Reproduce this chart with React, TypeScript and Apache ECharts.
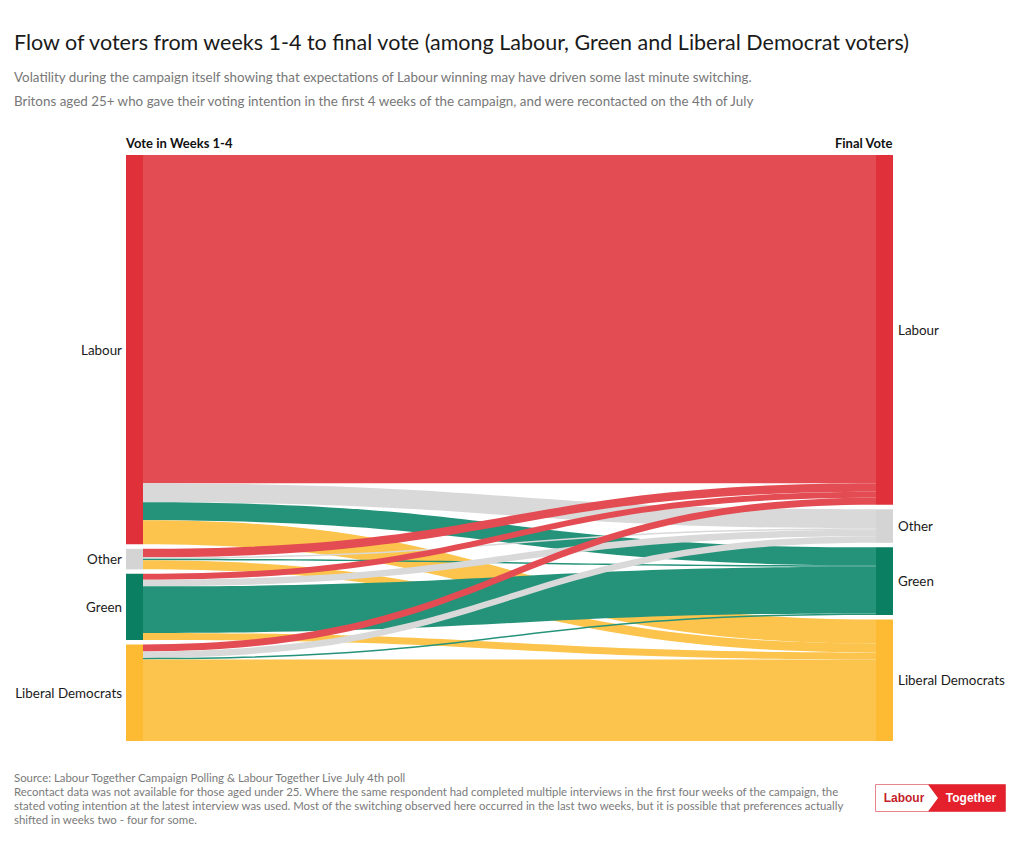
import React, { useEffect, useRef } from "react";
import * as echarts from "echarts";

const parties = ["Labour", "Other", "Green", "Liberal Democrats"];
// flows from each weeks 1-4 party to final vote [Labour, Other, Green, Liberal Democrats]
const fromLabour = [328, 19, 18, 24];
const fromOther = [8.5, 1.5, 1.5, 9];
const fromGreen = [6, 6.5, 46.5, 7];
const fromLibDem = [7, 6.5, 1.5, 81.5];
const flows = [fromLabour, fromOther, fromGreen, fromLibDem];

const nodeColors = ["#e0303a", "#d4d4d4", "#0a7f62", "#fcbb33"];
const linkColors = ["#e34c53", "#d9d9d9", "#24937a", "#fcc44c"];

const titleText =
  "Flow of voters from weeks 1-4 to final vote (among Labour, Green and Liberal Democrat voters)";
const subtitle1 =
  "Volatility during the campaign itself showing that expectations of Labour winning may have driven some last minute switching.";
const subtitle2 =
  "Britons aged 25+ who gave their voting intention in the first 4 weeks of the campaign, and were recontacted on the 4th of July";
const footerLines = [
  "Source: Labour Together Campaign Polling & Labour Together Live July 4th poll",
  "Recontact data was not available for those aged under 25. Where the same respondent had completed multiple interviews in the first four weeks of the campaign, the",
  "stated voting intention at the latest interview was used. Most of the switching observed here occurred in the last two weeks, but it is possible that preferences actually",
  "shifted in weeks two - four for some.",
];
const leftHeader = "Vote in Weeks 1-4";
const rightHeader = "Final Vote";

const FONT = "Lato";

export default function App() {
  const ref = useRef<HTMLDivElement>(null);
  useEffect(() => {
    document.body.style.margin = "0";
    const chart = echarts.init(ref.current!, null, { renderer: "svg" });
    const nodes: any[] = [];
    parties.forEach((p, i) =>
      nodes.push({
        name: "W|" + p,
        itemStyle: { color: nodeColors[i] },
        label: { position: "left", distance: 4 },
      })
    );
    parties.forEach((p, i) =>
      nodes.push({
        name: "F|" + p,
        itemStyle: { color: nodeColors[i] },
        label: { position: "right", distance: 5 },
      })
    );
    const links: any[] = [];
    flows.forEach((row, i) =>
      row.forEach((v, j) =>
        links.push({
          source: "W|" + parties[i],
          target: "F|" + parties[j],
          value: v,
          lineStyle: { color: linkColors[j], opacity: 1 },
        })
      )
    );
    const graphics: any[] = [];
    footerLines.forEach((t, i) =>
      graphics.push({
        type: "text",
        left: 14,
        top: 772 + i * 14,
        style: { text: t, fill: "#7a7a7a", font: `11.4px ${FONT}` },
      })
    );
    graphics.push(
      {
        type: "text",
        left: 126,
        top: 136,
        style: { text: leftHeader, fill: "#111", font: `bold 13px ${FONT}` },
      },
      {
        type: "text",
        right: 1020 - 893,
        top: 136,
        style: { text: rightHeader, fill: "#111", font: `bold 13px ${FONT}` },
      },
      {
        type: "rect",
        shape: { x: 875.5, y: 784.5, width: 130, height: 27 },
        style: { fill: "#fff", stroke: "#e8858c", lineWidth: 1 },
      },
      {
        type: "polygon",
        shape: {
          points: [
            [928, 784.5],
            [1005.5, 784.5],
            [1005.5, 811.5],
            [928, 811.5],
            [938, 798],
          ],
        },
        style: { fill: "#e3202b" },
      },
      {
        type: "text",
        x: 904,
        y: 798,
        style: {
          text: "Labour",
          fill: "#c41f2b",
          font: "bold 12px Liberation Sans",
          textAlign: "center",
          textVerticalAlign: "middle",
        },
      },
      {
        type: "text",
        x: 971,
        y: 798,
        style: {
          text: "Together",
          fill: "#fff",
          font: "bold 12px Liberation Sans",
          textAlign: "center",
          textVerticalAlign: "middle",
        },
      }
    );
    chart.setOption({
      animation: false,
      backgroundColor: "#fff",
      title: [
        {
          text: titleText,
          left: 14,
          top: 31,
          padding: 0,
          textStyle: { fontSize: 21.5, fontWeight: "normal", color: "#1a1a1a", fontFamily: FONT },
        },
        {
          text: subtitle1,
          left: 14,
          top: 70,
          padding: 0,
          textStyle: { fontSize: 13.4, fontWeight: "normal", color: "#777", fontFamily: FONT },
        },
        {
          text: subtitle2,
          left: 14,
          top: 94,
          padding: 0,
          textStyle: { fontSize: 13.4, fontWeight: "normal", color: "#777", fontFamily: FONT },
        },
      ],
      graphic: graphics,
      series: [
        {
          type: "sankey",
          left: 126,
          right: 127,
          top: 155,
          bottom: 100,
          nodeWidth: 17,
          nodeGap: 4.5,
          layoutIterations: 0,
          nodeAlign: "justify",
          draggable: false,
          emphasis: { disabled: true },
          label: {
            color: "#1a1a1a",
            fontSize: 13.4,
            fontFamily: FONT,
            formatter: (p: any) => p.name.split("|")[1],
          },
          lineStyle: { curveness: 0.5, opacity: 1 },
          data: nodes,
          links: links,
        },
      ],
    });
    return () => chart.dispose();
  }, []);
  return <div ref={ref} style={{ width: 1020, height: 841 }} />;
}
